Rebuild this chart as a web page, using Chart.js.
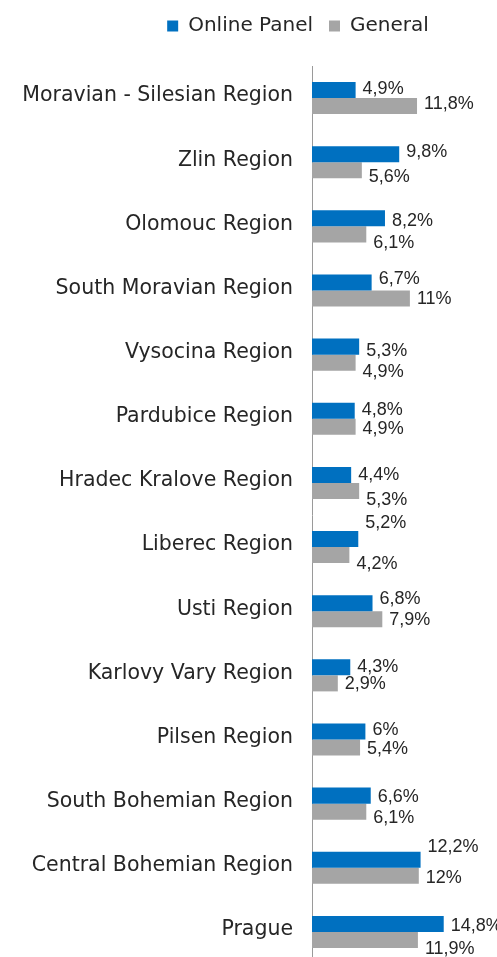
<!DOCTYPE html>
<html>
<head>
<meta charset="utf-8">
<script src="https://cdn.jsdelivr.net/npm/chart.js@4.4.1/dist/chart.umd.min.js"></script>
<style>
  html, body { margin: 0; padding: 0; background: #fff; overflow: hidden; }
  #wrap { width: 497px; height: 957px; overflow: hidden; }
</style>
</head>
<body>
<div id="wrap"><canvas id="chart" width="497" height="964"></canvas></div>
<script>
// regions, top to bottom
var regions = ['Moravian - Silesian Region', 'Zlin Region', 'Olomouc Region', 'South Moravian Region',
  'Vysocina Region', 'Pardubice Region', 'Hradec Kralove Region', 'Liberec Region', 'Usti Region',
  'Karlovy Vary Region', 'Pilsen Region', 'South Bohemian Region', 'Central Bohemian Region', 'Prague'];
var onlinePanel = [4.9, 9.8, 8.2, 6.7, 5.3, 4.8, 4.4, 5.2, 6.8, 4.3, 6, 6.6, 12.2, 14.8];
var general = [11.8, 5.6, 6.1, 11, 4.9, 4.9, 5.3, 4.2, 7.9, 2.9, 5.4, 6.1, 12, 11.9];

// small vertical nudges of the value labels (as placed in the original)
var onlineLabelShift = [-1, -2, 3, -3, 4, -1, 0, -16, -4, 0, -1, 1, -13, 2];
var generalLabelShift = [-2, 7, 9, 1, 9, 2, 9, 9, 1, 1, 2, 6, 2, 9];

var textColor = '#262626';

// value labels at the bar ends, e.g. "4,9%"
var valueLabels = {
  id: 'valueLabels',
  afterDatasetsDraw: function (chart) {
    var ctx = chart.ctx;
    ctx.save();
    ctx.font = '18px "Liberation Sans", Arial, sans-serif';
    ctx.fillStyle = textColor;
    ctx.textAlign = 'left';
    ctx.textBaseline = 'middle';
    chart.data.datasets.forEach(function (ds, i) {
      var meta = chart.getDatasetMeta(i);
      var shifts = i === 0 ? onlineLabelShift : generalLabelShift;
      meta.data.forEach(function (bar, j) {
        var txt = String(ds.data[j]).replace('.', ',') + '%';
        ctx.fillText(txt, bar.x + 7, bar.y + shifts[j]);
      });
    });
    ctx.restore();
  }
};

// legend: more room below it, and moved right like in the original
var legendPlace = {
  id: 'legendPlace',
  afterInit: function (chart) {
    var fit = chart.legend.fit;
    chart.legend.fit = function () {
      fit.call(this);
      this.height += 20;
    };
  },
  afterLayout: function (chart) {
    chart.legend.left += 53;
    chart.legend.right += 53;
  }
};

new Chart(document.getElementById('chart'), {
  type: 'bar',
  data: {
    labels: regions,
    datasets: [{
      label: 'Online Panel',
      data: onlinePanel,
      backgroundColor: '#0070C0',
      categoryPercentage: 0.5,
      barPercentage: 1.0
    }, {
      label: 'General',
      data: general,
      backgroundColor: '#A5A5A5',
      categoryPercentage: 0.5,
      barPercentage: 1.0
    }]
  },
  options: {
    indexAxis: 'y',
    responsive: false,
    animation: false,
    layout: { padding: { left: 0, right: 7, top: 0, bottom: 0 } },
    plugins: {
      legend: {
        position: 'top',
        labels: {
          boxWidth: 11,
          boxHeight: 11,
          padding: 16,
          color: textColor,
          font: { family: '"DejaVu Sans", Verdana, sans-serif', size: 20 }
        }
      },
      tooltip: { enabled: false }
    },
    scales: {
      x: {
        display: false,
        min: 0,
        max: 20
      },
      y: {
        afterFit: function (scale) {
          scale.width = 312;
          scale.paddingTop = 0;
          scale.paddingBottom = 0;
        },
        grid: { display: false, drawTicks: false },
        border: { display: true, color: '#9a9a9a', width: 1 },
        ticks: {
          padding: 19,
          labelOffset: -2,
          color: textColor,
          autoSkip: false,
          font: { family: '"DejaVu Sans", Verdana, sans-serif', size: 20.5 }
        }
      }
    }
  },
  plugins: [valueLabels, legendPlace]
});
</script>
</body>
</html>
